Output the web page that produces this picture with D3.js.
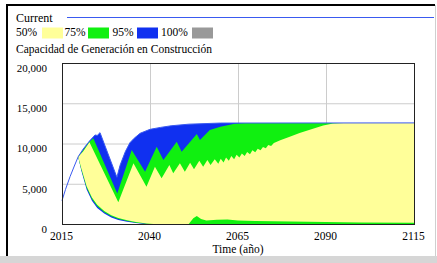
<!DOCTYPE html>
<html lang="es">

<head>
    <meta charset="UTF-8">
    <title>Capacidad de Generación en Construcción</title>
    <script src="https://d3js.org/d3.v7.min.js"></script>
    <style>
        body { margin: 0; background: #fff; }
        svg text { font-family: "Liberation Serif", "Times New Roman", serif; fill: #000; }
    </style>
</head>

<body>
    <div id="grafico"></div>
    <script>
        //---------------------------------- donnees (annee, valeur) ----------------------------------
        var anneesTicks = [2015, 2040, 2065, 2090, 2115];
        var valeursTicks = [0, 5000, 10000, 15000, 20000];
        var legendeNoms = ["50%", "75%", "95%", "100%"];
        var legendeCouleurs = ["#ffff99", "#10f010", "#1030f0", "#999999"];

        // enveloppe haute (95%) = run courant
        var bleuHaut = [[2015, 2900], [2016, 4300], [2017.3, 5900], [2018.5, 7200], [2019.6, 8360], [2021, 9300],
            [2022.8, 10300], [2024.4, 11060], [2025, 11000], [2025.8, 11350], [2030.6, 5800], [2031.5, 7300],
            [2033, 9000], [2034.3, 10100], [2035.5, 10650], [2037.2, 11270], [2040, 11760], [2043, 12000],
            [2046, 12200], [2051, 12400], [2060, 12540], [2115, 12560]];
        var bleuBas = [[2015, 2900], [2016, 4300], [2017.3, 5900], [2018.5, 7200], [2019.6, 8360], [2020.5, 6600],
            [2022, 4300], [2023.5, 2900], [2025, 2000], [2027, 1300], [2029, 820], [2031, 500], [2033.5, 280],
            [2036, 110], [2038.5, 0], [2115, 0]];

        var vertHaut = [[2019.6, 8360], [2021, 9150], [2022.8, 10250], [2023.9, 10650], [2030.7, 3800],
            [2034.8, 9190], [2038.6, 6500], [2041.9, 9600], [2043.8, 7950], [2047.6, 10220], [2049, 8980],
            [2053.3, 11180], [2054.2, 10430], [2057, 11680], [2060, 12090], [2064, 12450], [2067, 12560], [2115, 12560]];
        var vertBas = [[2019.6, 8360], [2020.5, 6750], [2022, 4500], [2023.5, 3100], [2025, 2200], [2027, 1450],
            [2029, 950], [2031, 620], [2033.5, 370], [2036, 170], [2039, 20], [2040, 0], [2115, 0]];

        var jauneHaut = [[2019.6, 8360], [2021, 9000], [2022.8, 10150], [2031, 2700], [2035.3, 7540], [2039, 4640],
            [2041.4, 7120], [2043.3, 5670], [2045.5, 7330], [2046.6, 6300], [2048.5, 7540], [2049.9, 6500],
            [2051.4, 7620], [2052.5, 6790], [2054, 7870], [2055.1, 7120], [2056.3, 7950], [2057.2, 7330],
            [2058.4, 8040], [2059.4, 7500], [2060.1, 8100], [2060.9, 7650], [2061.6, 8250], [2062.4, 7850],
            [2063.1, 8450], [2063.9, 8050], [2064.6, 8600], [2065.4, 8250], [2066.1, 8750], [2066.9, 8450],
            [2067.6, 8950], [2068.4, 8650], [2069.1, 9150], [2069.9, 8900], [2070.6, 9350], [2071.4, 9150],
            [2072.1, 9550], [2072.9, 9400], [2073.6, 9800], [2074.4, 9700], [2075.2, 10050], [2077, 10400],
            [2079.7, 10850], [2082.5, 11300], [2085.4, 11700], [2089.2, 12250], [2092, 12480], [2095, 12560],
            [2115, 12560]];
        var jauneBas = [[2019.6, 8360], [2020.5, 6900], [2022, 4700], [2023.5, 3300], [2025, 2400], [2027, 1600],
            [2029, 1100], [2031, 750], [2033.5, 480], [2036, 250], [2039, 60], [2041, 0], [2051, 0], [2052.3, 700],
            [2053.3, 990], [2054.5, 620], [2056, 430], [2059, 520], [2062, 560], [2065, 450], [2070, 380],
            [2080, 300], [2090, 250], [2100, 200], [2115, 150]];

        //---------------------------------- svg ----------------------------------
        var W = 437, H = 263;
        var police = '"Liberation Serif", "Times New Roman", serif';
        var svg = d3.select("#grafico").append("svg").attr("width", W).attr("height", H)
            .attr("font-family", police).attr("font-size", 11);

        // cadre de la fenetre
        svg.append("rect").attr("x", 0).attr("y", 256).attr("width", W).attr("height", 7).attr("fill", "#d6d6d6");
        svg.append("line").attr("x1", 435.5).attr("x2", 435.5).attr("y1", 5).attr("y2", 256).attr("stroke", "#cfcfcf");
        svg.append("rect").attr("x", 6).attr("y", 4).attr("width", 429).attr("height", 2).attr("fill", "#000");
        svg.append("rect").attr("x", 6).attr("y", 4).attr("width", 2).attr("height", 252).attr("fill", "#000");

        var x = d3.scaleLinear().domain([2015, 2115]).range([62, 414]);
        var y = d3.scaleLinear().domain([0, 20000]).range([224, 63]);

        //---------------------------------- legende ----------------------------------
        svg.append("text").attr("x", 16).attr("y", 22).attr("font-size", 12).text("Current");
        svg.append("line").attr("x1", 67).attr("x2", 434).attr("y1", 17.5).attr("y2", 17.5)
            .attr("stroke", "#3a5af0").attr("stroke-width", 1);

        var legX = [16, 64.5, 112.5, 161];
        var swX = [42, 88, 137, 192];
        legendeNoms.forEach(function(n, i) {
            svg.append("text").attr("x", legX[i]).attr("y", 36).attr("font-size", 11.5).text(n);
            svg.append("rect").attr("x", swX[i]).attr("y", 27.5).attr("width", 21).attr("height", 11)
                .attr("fill", legendeCouleurs[i]);
        });

        svg.append("text").attr("x", 16).attr("y", 53).attr("font-size", 11.5)
            .text("Capacidad de Generación en Construcción");

        //---------------------------------- grille ----------------------------------
        svg.append("g").selectAll("line").data(valeursTicks).join("line")
            .attr("x1", 62).attr("x2", 414)
            .attr("y1", d => y(d) + 0.5).attr("y2", d => y(d) + 0.5)
            .attr("stroke", "#cccccc");
        svg.append("g").selectAll("line").data(anneesTicks).join("line")
            .attr("x1", d => x(d) + 0.5).attr("x2", d => x(d) + 0.5)
            .attr("y1", 63).attr("y2", 224)
            .attr("stroke", "#cccccc");

        //---------------------------------- bandes ----------------------------------
        var ligne = d3.line().x(d => x(d[0])).y(d => y(d[1]));

        function bande(haut, bas, couleur) {
            var pts = haut.concat(bas.slice().reverse());
            svg.append("path").attr("d", ligne(pts) + "Z").attr("fill", couleur).attr("stroke", "none");
        }
        bande(bleuHaut, bleuBas, legendeCouleurs[2]);
        bande(vertHaut, vertBas, legendeCouleurs[1]);
        bande(jauneHaut, jauneBas, legendeCouleurs[0]);

        // run courant
        svg.append("path").attr("d", ligne(bleuHaut)).attr("fill", "none")
            .attr("stroke", "#3a5af0").attr("stroke-width", 1);

        // cadre du graphique
        svg.append("rect").attr("x", 62.5).attr("y", 63.5).attr("width", 352).attr("height", 161)
            .attr("fill", "none").attr("stroke", "#222").attr("stroke-width", 1);

        //---------------------------------- axes ----------------------------------
        var axeY = d3.axisLeft(y).tickValues(valeursTicks).tickSize(0).tickPadding(15).tickFormat(d3.format(","));
        var gy = svg.append("g").attr("transform", "translate(62,0)").call(axeY)
            .attr("font-family", police).attr("font-size", 11);
        gy.select(".domain").remove();
        gy.selectAll("text").attr("dy", "0.75em");

        var axeX = d3.axisBottom(x).tickValues(anneesTicks).tickSize(0).tickPadding(8).tickFormat(d3.format("d"));
        var gx = svg.append("g").attr("transform", "translate(-1,224)").call(axeX)
            .attr("font-family", police).attr("font-size", 11.5);
        gx.select(".domain").remove();

        svg.append("text").attr("x", 238).attr("y", 253).attr("font-size", 11.5)
            .attr("text-anchor", "middle").text("Time (año)");
    </script>
</body>

</html>
